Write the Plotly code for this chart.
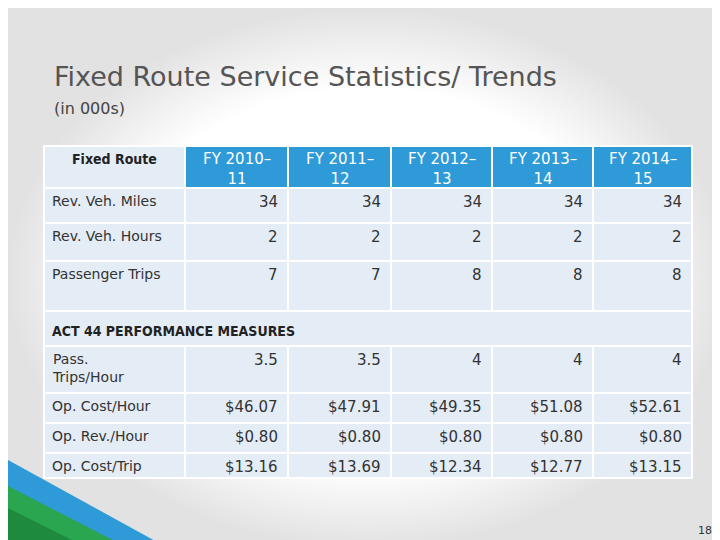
import plotly.graph_objects as go

columns = ["Fixed Route", "FY 2010–<br>11", "FY 2011–<br>12", "FY 2012–<br>13", "FY 2013–<br>14", "FY 2014–<br>15"]
top_rows = ["Rev. Veh. Miles", "Rev. Veh. Hours", "Passenger Trips"]
top_vals = [["34", "34", "34", "34", "34"], ["2", "2", "2", "2", "2"], ["7", "7", "8", "8", "8"]]
section = "ACT 44 PERFORMANCE MEASURES"
perf_rows = ["Pass.<br>Trips/Hour", "Op. Cost/Hour", "Op. Rev./Hour", "Op. Cost/Trip"]
perf_vals = [["3.5", "3.5", "4", "4", "4"],
             ["$46.07", "$47.91", "$49.35", "$51.08", "$52.61"],
             ["$0.80", "$0.80", "$0.80", "$0.80", "$0.80"],
             ["$13.16", "$13.69", "$12.34", "$12.77", "$13.15"]]

xe = [36, 177, 280, 383, 484, 585, 684]
ye = [138, 180, 215, 253, 303, 338, 385, 415, 445, 470]

fig = go.Figure()
fig.add_trace(go.Scatter(x=[0, 720, 720, 0, 0], y=[0, 0, 540, 540, 0], mode="lines",
                         line=dict(width=0), fill="toself", hoverinfo="skip",
                         fillgradient=dict(type="radial", colorscale=[[0, "#ffffff"], [0.7, "#ffffff"], [1, "#e2e2e2"]])))
shapes, ann = [], []
cell = "#e4ecf6"
hdr = "#2e9ad8"

def rect(x0, y0, x1, y1, c):
    shapes.append(dict(type="rect", x0=x0, y0=y0, x1=x1, y1=y1, fillcolor=c, line=dict(color="white", width=2), layer="above"))

def txt(x, y, t, anchor, size=15, color="#333", font="DejaVu Sans", yanch="middle"):
    ann.append(dict(x=x, y=y, text=t, showarrow=False, xanchor=anchor, yanchor=yanch, align=anchor if anchor != "center" else "center",
                    font=dict(size=size, color=color, family=font)))

for i, c in enumerate(columns):
    rect(xe[i], ye[0], xe[i+1], ye[1], "#e4ecf6" if i == 0 else hdr)
    if i == 0:
        txt((xe[0]+xe[1])/2, ye[0]+3, "<b>"+c+"</b>", "center", 14, "#222", "DejaVu Sans Condensed", "top")
    else:
        txt((xe[i]+xe[i+1])/2, ye[0]+2, c, "center", 15, "white", "DejaVu Sans", "top")

def body(rows, vals, start):
    for r, (lab, v) in enumerate(zip(rows, vals)):
        y0, y1 = ye[start+r], ye[start+r+1]
        for i in range(6):
            rect(xe[i], y0, xe[i+1], y1, cell)
        txt(xe[0]+6, y0+3, lab, "left", 14, "#333", "DejaVu Sans", "top")
        for i, s in enumerate(v):
            txt(xe[i+2]-8, y0+3, s, "right", 15, "#333", "DejaVu Sans", "top")

body(top_rows, top_vals, 1)
rect(xe[0], ye[4], xe[6], ye[5], cell)
txt(xe[0]+6, (ye[4]+ye[5])/2+2, "<b>"+section+"</b>", "left", 14, "#222", "DejaVu Sans Condensed")
body(perf_rows, perf_vals, 5)

shapes.append(dict(type="path", path="M0,452 L160,540 L0,540 Z", fillcolor="#2e9ad8", line=dict(width=0)))
shapes.append(dict(type="path", path="M0,478 L120,540 L0,540 Z", fillcolor="#2aa650", line=dict(width=0)))
shapes.append(dict(type="path", path="M0,500 L80,540 L0,540 Z", fillcolor="#1e8a3e", line=dict(width=0)))

txt(44, 68, "Fixed Route Service Statistics/ Trends", "left", 27, "#555", "DejaVu Sans")
txt(44, 100, "(in 000s)", "left", 16, "#444", "DejaVu Sans")
txt(697, 522, "18", "center", 11, "#333", "DejaVu Sans")

fig.update_layout(width=720, height=540, margin=dict(l=0, r=0, t=0, b=0), showlegend=False,
                  paper_bgcolor="white", plot_bgcolor="white", shapes=shapes, annotations=ann,
                  xaxis=dict(range=[0, 720], visible=False, fixedrange=True),
                  yaxis=dict(range=[540, 0], visible=False, fixedrange=True))
fig.write_html("out.html")
